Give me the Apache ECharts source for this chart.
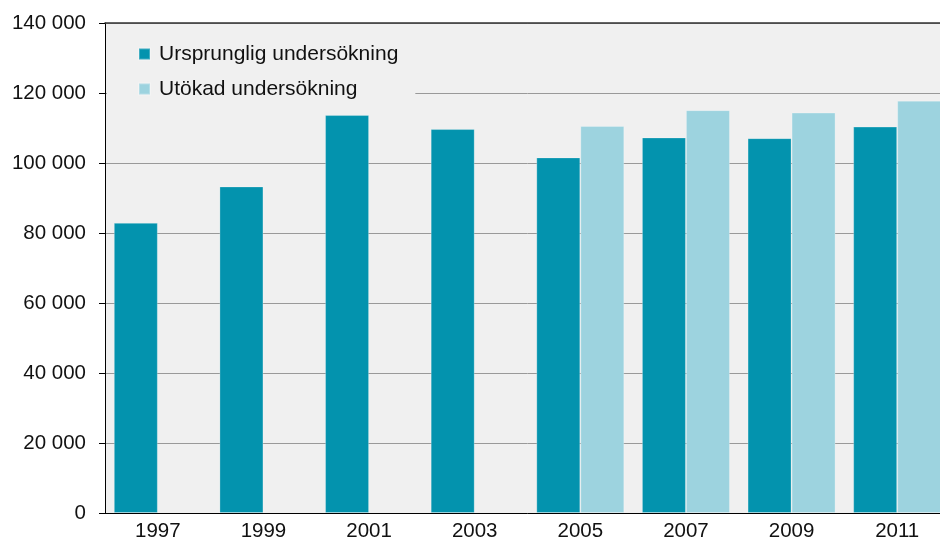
<!DOCTYPE html>
<html>
<head>
<meta charset="utf-8">
<script src="https://cdn.jsdelivr.net/npm/echarts@6/dist/echarts.min.js"></script>
<style>
    html, body { margin: 0; padding: 0; overflow: hidden; background: #fff; }
    #chart { width: 950px; height: 543px; }
</style>
</head>
<body>
<div id="chart"></div>
<script>
// data
const years = ['1997', '1999', '2001', '2003', '2005', '2007', '2009', '2011']
const ursprunglig = [82900, 93300, 113700, 109700, 101600, 107300, 107100, 110400]
const utokad = [null, null, null, null, 110600, 115100, 114400, 117800]
const seriesNames = ['Ursprunglig undersökning', 'Utökad undersökning']

const font = '"Liberation Sans", Arial, sans-serif'

const chart = echarts.init(document.getElementById('chart'))
chart.setOption({
    animation: false,
    textStyle: { fontFamily: font },
    color: ['#0393ae', '#9dd3df'],
    grid: {
        left: 105,
        right: 0,
        top: 23,
        bottom: 30,
        show: true,
        backgroundColor: '#f0f0f0',
        borderWidth: 0,
    },
    legend: {
        orient: 'vertical',
        left: 107,
        top: 30,
        padding: [13, 17, 5, 31],
        backgroundColor: '#f0f0f0',
        itemWidth: 11,
        itemHeight: 11,
        itemGap: 13,
        icon: 'rect',
        textStyle: { fontSize: 21, color: '#111', fontFamily: font, lineHeight: 22, padding: [0, 0, 0, 4] },
        data: seriesNames,
    },
    xAxis: [
        {
            type: 'category',
            data: years,
            axisLine: { lineStyle: { color: '#000', width: 1 } },
            axisTick: { show: false },
            axisLabel: { fontSize: 20.5, color: '#111', margin: 8 },
        },
        {
            // only the dark top frame line
            type: 'category',
            position: 'top',
            data: years,
            axisLine: { lineStyle: { color: '#333', width: 1.5 } },
            axisTick: { show: false },
            axisLabel: { show: false },
        },
    ],
    yAxis: {
        type: 'value',
        min: 0,
        max: 140000,
        interval: 20000,
        axisLine: { show: true, lineStyle: { color: '#000', width: 1 } },
        axisTick: { show: true, length: 6, lineStyle: { color: '#000' } },
        axisLabel: {
            fontSize: 20.5,
            color: '#111',
            margin: 19,
            formatter: v => String(v).replace(/\B(?=(\d{3})+(?!\d))/g, ' '),
        },
        splitLine: { lineStyle: { color: '#999', width: 1 } },
    },
    series: [
        {
            name: seriesNames[0],
            type: 'bar',
            data: ursprunglig,
            barGap: '0%',
            barCategoryGap: '16.7%',
            itemStyle: { borderColor: 'rgba(255,255,255,0.25)', borderWidth: 1 },
        },
        {
            name: seriesNames[1],
            type: 'bar',
            data: utokad,
            itemStyle: { borderColor: 'rgba(255,255,255,0.25)', borderWidth: 1 },
        },
    ],
})
</script>
</body>
</html>
